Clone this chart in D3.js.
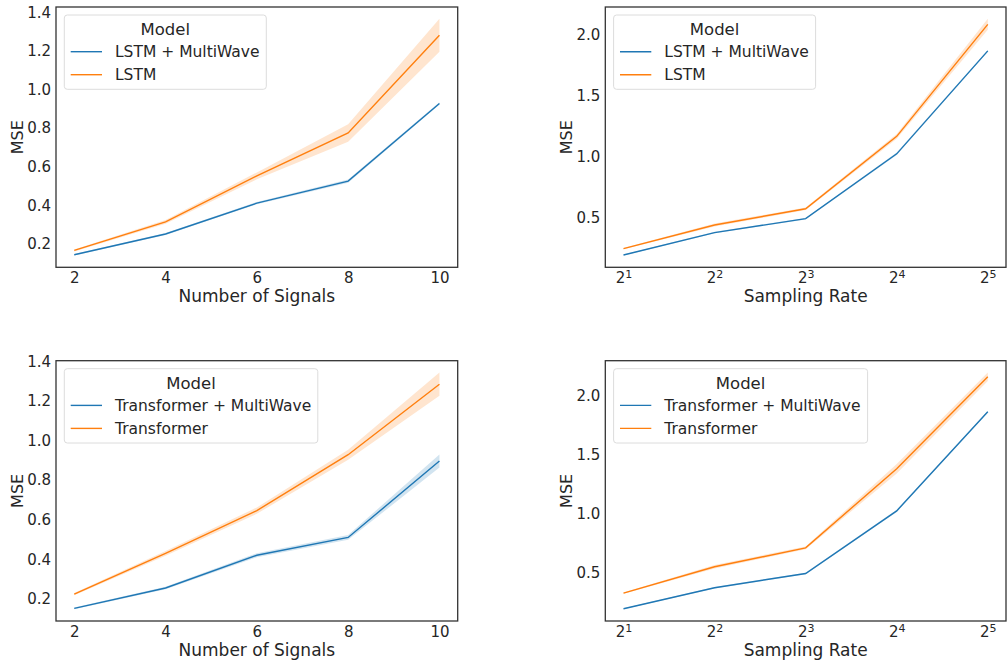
<!DOCTYPE html>
<html>
<head>
<meta charset="utf-8">
<script src="https://cdn.jsdelivr.net/npm/d3@7"></script>
<style>
  body { margin: 0; background: #fff; }
  svg text { font-family: "DejaVu Sans", sans-serif; fill: #262626; }
</style>
</head>
<body>
<div id="chart"></div>
<script>
// x values
var signals = [2, 4, 6, 8, 10];
var rates = [2, 4, 8, 16, 32];

// Number of Signals, LSTM
var lstmMwSignals = [0.145, 0.252, 0.412, 0.526, 0.928],
    lstmMwSignalsCi = [0.004, 0.005, 0.006, 0.008, 0.006],
    lstmSignals = [0.167, 0.315, 0.553, 0.775, 1.281],
    lstmSignalsCi = [0.005, 0.010, 0.018, 0.045, 0.085];

// Sampling Rate, LSTM
var lstmMwRates = [0.195, 0.378, 0.492, 1.022, 1.864],
    lstmMwRatesCi = [0.004, 0.006, 0.006, 0.010, 0.008],
    lstmRates = [0.247, 0.440, 0.573, 1.165, 2.081],
    lstmRatesCi = [0.006, 0.012, 0.010, 0.020, 0.045];

// Number of Signals, Transformer
var trMwSignals = [0.151, 0.254, 0.420, 0.510, 0.897],
    trMwSignalsCi = [0.004, 0.006, 0.010, 0.012, 0.033],
    trSignals = [0.223, 0.429, 0.646, 0.929, 1.286],
    trSignalsCi = [0.006, 0.012, 0.016, 0.025, 0.059];

// Sampling Rate, Transformer
var trMwRates = [0.195, 0.373, 0.494, 1.025, 1.867],
    trMwRatesCi = [0.004, 0.006, 0.006, 0.010, 0.008],
    trRates = [0.327, 0.551, 0.711, 1.383, 2.163],
    trRatesCi = [0.006, 0.015, 0.012, 0.040, 0.036];

var signalTicks = [0.2, 0.4, 0.6, 0.8, 1.0, 1.2, 1.4],
    rateTicks = [0.5, 1.0, 1.5, 2.0];

var blue = "#1f77b4", orange = "#ff7f0e";

var svg = d3.select("#chart").append("svg")
    .attr("width", 1007)
    .attr("height", 660);

var panels = [
  {box: [56, 457.7, 7, 267.3], xs: signals, log: false, xLabel: "Number of Signals", yTicks: signalTicks,
   names: ["LSTM + MultiWave", "LSTM"], means: [lstmMwSignals, lstmSignals], cis: [lstmMwSignalsCi, lstmSignalsCi], legendW: 202},
  {box: [605.3, 1006, 7, 267.3], xs: rates, log: true, xLabel: "Sampling Rate", yTicks: rateTicks,
   names: ["LSTM + MultiWave", "LSTM"], means: [lstmMwRates, lstmRates], cis: [lstmMwRatesCi, lstmRatesCi], legendW: 202},
  {box: [56, 457.7, 360.7, 621], xs: signals, log: false, xLabel: "Number of Signals", yTicks: signalTicks,
   names: ["Transformer + MultiWave", "Transformer"], means: [trMwSignals, trSignals], cis: [trMwSignalsCi, trSignalsCi], legendW: 253.5},
  {box: [605.3, 1006, 360.7, 621], xs: rates, log: true, xLabel: "Sampling Rate", yTicks: rateTicks,
   names: ["Transformer + MultiWave", "Transformer"], means: [trMwRates, trRates], cis: [trMwRatesCi, trRatesCi], legendW: 254}
];

panels.forEach(drawPanel);

function drawPanel(p) {
  var left = p.box[0], right = p.box[1], top = p.box[2], bottom = p.box[3];
  var g = svg.append("g");

  // matplotlib-like 5% padding on both axes
  var xMin = p.log ? Math.log2(d3.min(p.xs)) : d3.min(p.xs),
      xMax = p.log ? Math.log2(d3.max(p.xs)) : d3.max(p.xs),
      xPad = (xMax - xMin) * 0.05;
  var xScale = p.log
    ? d3.scaleLog().base(2).domain([Math.pow(2, xMin - xPad), Math.pow(2, xMax + xPad)]).range([left, right])
    : d3.scaleLinear().domain([xMin - xPad, xMax + xPad]).range([left, right]);

  var lo = d3.min(p.means.map(function(m, i) { return d3.min(m, function(v, j) { return v - p.cis[i][j]; }); })),
      hi = d3.max(p.means.map(function(m, i) { return d3.max(m, function(v, j) { return v + p.cis[i][j]; }); })),
      yPad = (hi - lo) * 0.05;
  var yScale = d3.scaleLinear().domain([lo - yPad, hi + yPad]).range([bottom, top]);

  var colors = [blue, orange];

  // bands
  p.means.forEach(function(m, i) {
    var area = d3.area()
      .x(function(d, j) { return xScale(p.xs[j]); })
      .y0(function(d, j) { return yScale(d - p.cis[i][j]); })
      .y1(function(d, j) { return yScale(d + p.cis[i][j]); });
    g.append("path")
      .attr("d", area(m))
      .attr("fill", colors[i])
      .attr("fill-opacity", 0.2)
      .attr("stroke", "none");
  });

  // lines
  p.means.forEach(function(m, i) {
    var line = d3.line()
      .x(function(d, j) { return xScale(p.xs[j]); })
      .y(function(d) { return yScale(d); });
    g.append("path")
      .attr("d", line(m))
      .attr("fill", "none")
      .attr("stroke", colors[i])
      .attr("stroke-width", 1.4);
  });

  // frame
  g.append("rect")
    .attr("x", left).attr("y", top)
    .attr("width", right - left).attr("height", bottom - top)
    .attr("fill", "none")
    .attr("stroke", "#333")
    .attr("stroke-width", 1.3);

  // axes without tick marks
  var xAxis = d3.axisBottom(xScale).tickValues(p.xs).tickSize(0).tickPadding(5.5)
    .tickFormat(function(d) { return p.log ? "" : d; });
  var xg = g.append("g")
    .attr("transform", "translate(0," + bottom + ")")
    .call(xAxis);
  xg.select(".domain").remove();
  xg.selectAll("text")
    .style("font-size", "15px")
    .attr("fill", "#262626");

  if (p.log) {
    xg.selectAll(".tick text").each(function(d) {
      var t = d3.select(this);
      t.append("tspan").text("2");
      t.append("tspan").text(Math.round(Math.log2(d)))
        .attr("dy", "-0.45em")
        .style("font-size", "11px");
    });
  }

  var yAxis = d3.axisLeft(yScale).tickValues(p.yTicks).tickSize(0).tickPadding(5)
    .tickFormat(d3.format(".1f"));
  var yg = g.append("g")
    .attr("transform", "translate(" + left + ",0)")
    .call(yAxis);
  yg.select(".domain").remove();
  yg.selectAll("text")
    .style("font-size", "15px")
    .attr("fill", "#262626");

  // axis labels
  g.append("text")
    .attr("x", (left + right) / 2)
    .attr("y", bottom + 34.5)
    .attr("text-anchor", "middle")
    .style("font-size", "17px")
    .text(p.xLabel);

  g.append("text")
    .attr("transform", "translate(" + (left - 33) + "," + ((top + bottom) / 2) + ") rotate(-90)")
    .attr("text-anchor", "middle")
    .style("font-size", "16px")
    .text("MSE");

  // legend
  var lx = left + 8.3, ly = top + 8;
  var lg = g.append("g").attr("transform", "translate(" + lx + "," + ly + ")");
  lg.append("rect")
    .attr("width", p.legendW).attr("height", 74.3)
    .attr("rx", 3).attr("ry", 3)
    .attr("fill", "#fff").attr("fill-opacity", 0.8)
    .attr("stroke", "#dcdcdc").attr("stroke-width", 1);
  lg.append("text")
    .attr("x", p.legendW / 2).attr("y", 20)
    .attr("text-anchor", "middle")
    .style("font-size", "16.5px")
    .text("Model");
  p.names.forEach(function(name, i) {
    var yy = 36.7 + i * 23;
    lg.append("line")
      .attr("x1", 6.4).attr("x2", 37.7)
      .attr("y1", yy).attr("y2", yy)
      .attr("stroke", colors[i]).attr("stroke-width", 1.4);
    lg.append("text")
      .attr("x", 50.7).attr("y", yy + 5.5)
      .style("font-size", "15.5px")
      .text(name);
  });
}
</script>
</body>
</html>
